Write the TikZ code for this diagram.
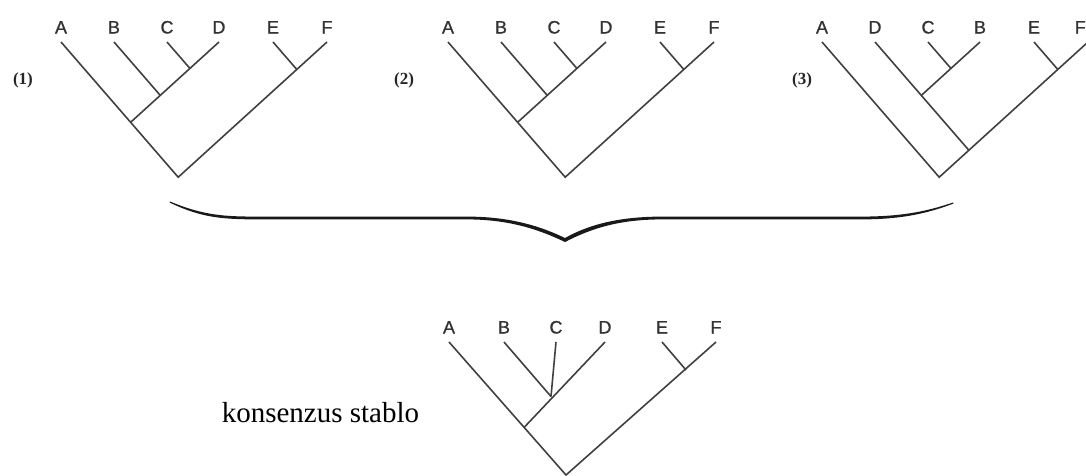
\documentclass[tikz,border=0pt]{standalone}
\usepackage{fontspec}
\setmainfont{Liberation Serif}
\newfontfamily\leaffont[FakeBold=1]{Liberation Sans}

\tikzset{
  branch/.style={draw=black!75, line width=1.6pt},
  leaf/.style={font=\leaffont\fontsize{18}{18}\selectfont, text=black!80, inner sep=0pt, anchor=base},
  treeno/.style={font=\bfseries\fontsize{17}{17}\selectfont, text=black!85, inner sep=0pt},
}

\begin{document}
\begin{tikzpicture}[x=1pt,y=-1pt]
   \clip (0,0) rectangle (1086,475);
   % stablo (1)
   \begin{scope}
      \foreach \i/\x/\n in {1/61/A,2/114/B,3/167/C,4/219/D,5/273/E,6/327/F}{
         \coordinate (t1-\i) at (\x,42);
         \node[leaf] (t1-\n) at (\x,33.5) {\n};
      }
      \coordinate (t1-cd) at (189.9,68.4);
      \coordinate (t1-bcd) at (160.3,95.4);
      \coordinate (t1-abcd) at (130.6,122.3);
      \coordinate (t1-ef) at (296.8,69.5);
      \coordinate (t1-root) at (178.2,177.2);
      \draw[branch] (t1-1) -- (t1-root) -- (t1-6);
      \draw[branch] (t1-4) -- (t1-abcd);
      \draw[branch] (t1-3) -- (t1-cd);
      \draw[branch] (t1-2) -- (t1-bcd);
      \draw[branch] (t1-5) -- (t1-ef);
   \end{scope}
   \node[treeno] (no1) at (23,80) {(1)};
   % stablo (2)
   \begin{scope}[shift={(387,0)}]
      \foreach \i/\x/\n in {1/61/A,2/114/B,3/167/C,4/219/D,5/273/E,6/327/F}{
         \coordinate (t2-\i) at (\x,42);
         \node[leaf] (t2-\n) at (\x,33.5) {\n};
      }
      \coordinate (t2-cd) at (189.9,68.4);
      \coordinate (t2-bcd) at (160.3,95.4);
      \coordinate (t2-abcd) at (130.6,122.3);
      \coordinate (t2-ef) at (296.8,69.5);
      \coordinate (t2-root) at (178.2,177.2);
      \draw[branch] (t2-1) -- (t2-root) -- (t2-6);
      \draw[branch] (t2-4) -- (t2-abcd);
      \draw[branch] (t2-3) -- (t2-cd);
      \draw[branch] (t2-2) -- (t2-bcd);
      \draw[branch] (t2-5) -- (t2-ef);
   \end{scope}
   \node[treeno] (no2) at (404,80) {(2)};
   % stablo (3)
   \begin{scope}[shift={(761,0)}]
      \foreach \i/\x/\n in {1/61/A,2/114/D,3/167/C,4/219/B,5/273/E}{
         \coordinate (t3-\i) at (\x,42);
         \node[leaf] (t3-\n) at (\x,33.5) {\n};
      }
      \coordinate (t3-6) at (327,42);
      \node[leaf, anchor=base east] (t3-F) at (325,33.5) {F};
      \coordinate (t3-cb) at (189.9,68.4);
      \coordinate (t3-dcb) at (160.3,95.4);
      \coordinate (t3-ef) at (296.8,69.5);
      \coordinate (t3-dcbef) at (207.9,150.3);
      \coordinate (t3-root) at (178.2,177.2);
      \draw[branch] (t3-1) -- (t3-root) -- (t3-6);
      \draw[branch] (t3-4) -- (t3-dcb);
      \draw[branch] (t3-3) -- (t3-cb);
      \draw[branch] (t3-2) -- (t3-dcbef);
      \draw[branch] (t3-5) -- (t3-ef);
   \end{scope}
   \node[treeno] (no3) at (802,80) {(3)};
   % zagrada
   \fill[black!90] (170,201.5) .. controls (205,216) and (225,216.6) .. (262,216.6)
      -- (467,216.6) .. controls (512,216.6) and (542,227) .. (565,238)
      .. controls (588,225) and (618,216.6) .. (662,216.6) -- (860,216.6)
      .. controls (900,216.6) and (925,212) .. (953,202.5)
      -- (953.5,203.5) .. controls (926,214) and (900,219.4) .. (860,219.4)
      -- (662,219.4) .. controls (620,219.4) and (592,228) .. (565,242)
      .. controls (538,229) and (508,219.4) .. (467,219.4) -- (262,219.4)
      .. controls (222,219.4) and (202,218) .. (169.5,202.5) -- cycle;
   % konsenzus stablo
   \begin{scope}[shift={(388,300)}]
      \foreach \i/\x/\n in {1/61/A,2/116/B,3/168/C,4/217/D,5/274/E,6/328/F}{
         \coordinate (k-\i) at (\x,42);
         \node[leaf] (k-\n) at (\x,33.5) {\n};
      }
      \coordinate (k-bcd) at (163,96.5);
      \coordinate (k-abcd) at (136.5,127);
      \coordinate (k-ef) at (298,70);
      \coordinate (k-root) at (178,175);
      \draw[branch] (k-1) -- (k-root) -- (k-6);
      \draw[branch] (k-4) -- (k-abcd);
      \draw[branch] (k-3) -- (k-bcd);
      \draw[branch] (k-2) -- (k-bcd);
      \draw[branch] (k-5) -- (k-ef);
   \end{scope}
   \node[font=\fontsize{29}{29}\selectfont, inner sep=0pt, anchor=base] (konsenzus) at (320.5,422) {konsenzus stablo};
\end{tikzpicture}
\end{document}
